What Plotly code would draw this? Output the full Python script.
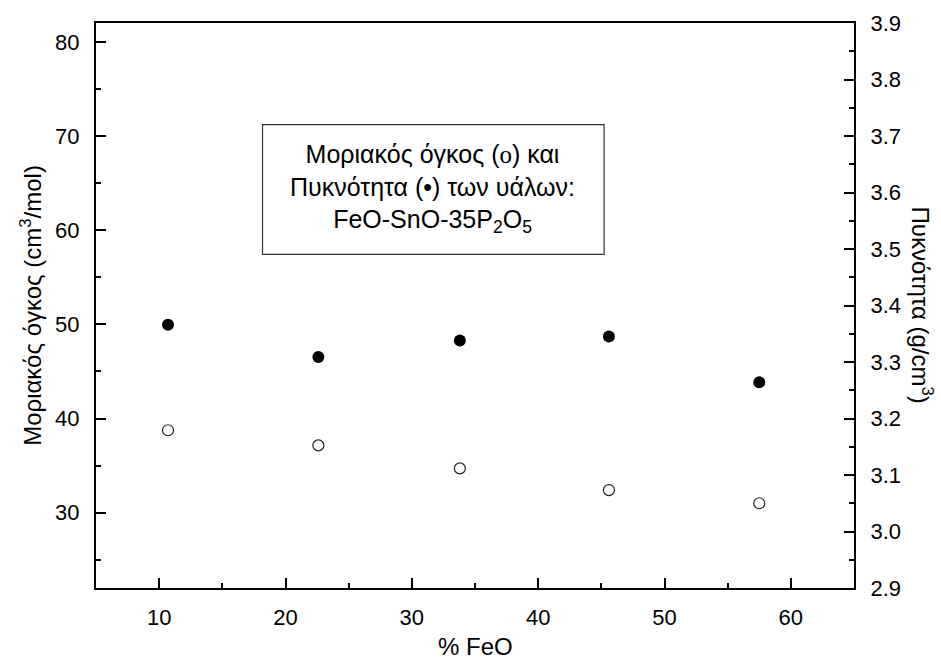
import plotly.graph_objects as go

# Glass composition FeO-SnO-35P2O5
feo_pct = [10.7, 22.6, 33.8, 45.6, 57.5]
molar_volume = [38.75, 37.15, 34.7, 32.4, 31.0]      # cm^3/mol (left axis)
density = [3.366, 3.309, 3.338, 3.345, 3.264]        # g/cm^3 (right axis)

FONT = "Arial, Liberation Sans, sans-serif"

fig = go.Figure()

fig.add_trace(go.Scatter(
    x=feo_pct, y=molar_volume, mode="markers", yaxis="y",
    marker=dict(symbol="circle", size=11, color="white",
                line=dict(color="#222222", width=1.2)),
    showlegend=False,
))
fig.add_trace(go.Scatter(
    x=feo_pct, y=density, mode="markers", yaxis="y2",
    marker=dict(symbol="circle", size=12, color="black",
                line=dict(color="black", width=0)),
    showlegend=False,
))

axis_common = dict(
    showline=True, linecolor="black", linewidth=2,
    ticks="inside", ticklen=10, tickwidth=2, tickcolor="black",
    showgrid=False, zeroline=False,
    tickfont=dict(family=FONT, size=22, color="black"),
)

fig.update_layout(
    width=941, height=662,
    margin=dict(l=96, r=87, t=23, b=74),
    paper_bgcolor="white", plot_bgcolor="white",
    font=dict(family=FONT, color="black"),
    xaxis=dict(
        range=[5, 65], tickvals=[10, 20, 30, 40, 50, 60],
        minor=dict(ticks="inside", ticklen=5, tickwidth=2, tickcolor="black", dtick=5, tick0=0),
        ticklabelstandoff=9,
        mirror=True,
        **axis_common,
    ),
    yaxis=dict(
        range=[22, 82], tickvals=[30, 40, 50, 60, 70, 80],
        minor=dict(ticks="inside", ticklen=5, tickwidth=2, tickcolor="black", dtick=5, tick0=0),
        ticklabelstandoff=10,
        **axis_common,
    ),
    yaxis2=dict(
        range=[2.9, 3.9], overlaying="y", side="right",
        tickvals=[2.9, 3.0, 3.1, 3.2, 3.3, 3.4, 3.5, 3.6, 3.7, 3.8, 3.9],
        tickformat=".1f",
        minor=dict(ticks="inside", ticklen=5, tickwidth=2, tickcolor="black", dtick=0.05, tick0=2.9),
        ticklabelstandoff=10,
        **axis_common,
    ),
)

# Caption box
fig.add_shape(type="rect", xref="paper", yref="paper",
              x0=0.2197, x1=0.6703, y0=0.5906, y1=0.820,
              line=dict(color="#333333", width=1.2), fillcolor="white", layer="above")
fig.add_annotation(
    xref="paper", yref="paper", x=0.4437, y=0.707, xanchor="center", yanchor="middle",
    showarrow=False, align="center",
    text=("Μοριακός όγκος (<span style='font-family:Liberation Serif, Times New Roman, serif'>ο</span>) και<br>"
          "Πυκνότητα (•) των υάλων:<br>"
          "FeO-SnO-35P<sub>2</sub>O<sub>5</sub>"),
    font=dict(family=FONT, size=25, color="black"),
)

# Axis titles
fig.add_annotation(
    xref="paper", yref="paper", x=0.5, y=-0.103, xanchor="center", yanchor="middle",
    showarrow=False, text="% FeO", font=dict(family=FONT, size=24, color="black"),
)
fig.add_annotation(
    xref="paper", yref="paper", x=-0.0866, y=0.5, xanchor="center", yanchor="middle",
    showarrow=False, textangle=-90,
    text="Μοριακός όγκος (cm<sup>3</sup>/mol)", font=dict(family=FONT, size=24, color="black"),
)
fig.add_annotation(
    xref="paper", yref="paper", x=1.091, y=0.5, xanchor="center", yanchor="middle",
    showarrow=False, textangle=90,
    text="Πυκνότητα (g/cm<sup>3</sup>)", font=dict(family=FONT, size=24, color="black"),
)

fig.write_html("out.html")
